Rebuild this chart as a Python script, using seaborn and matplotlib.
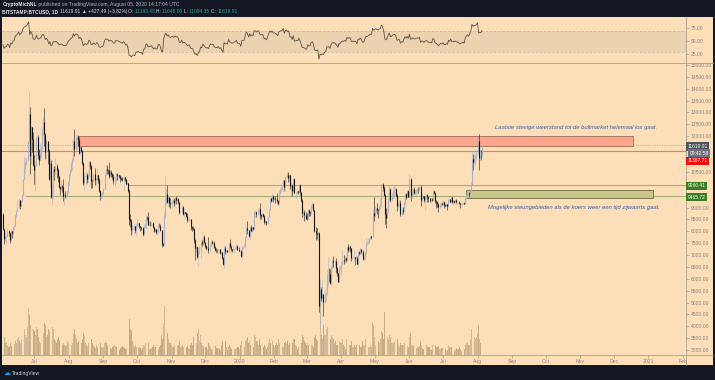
import numpy as np
import pandas as pd
import seaborn as sns
import matplotlib
matplotlib.use('Agg')
import matplotlib.pyplot as plt
import matplotlib.dates as mdates
from matplotlib.patches import Rectangle
from matplotlib.lines import Line2D

# BITSTAMP:BTCUSD daily candles, 3 Jun 2019 - 5 Aug 2020
start_date = '2019-06-03'
first_open = 8740

# a few closes before the first candle, only used to warm up the RSI
warmup_close = [7980, 7950, 7620, 7880, 7990, 8050, 8670, 8810, 8720, 8660, 8270, 8550, 8560, 8740]

close = [
    8110, 7680, 7790, 7800, 8000, 7930, 7630, 8020, 7910, 8170, 8230, 8690, 8860, 8980, 9330, 9080, 9280, 9530, 10200, 10680, 10870, 11020, 11770, 12930, 11170, 12380, 11900, 10810,
    10580, 10800, 11970, 11220, 10990, 11250, 11490, 12300, 12580, 12110, 11350, 11800, 11390, 10210, 10860, 9430, 9690, 10630, 10530, 10760, 10600, 10330, 9850, 9780, 9900, 9850, 9480, 9530, 9500, 9590, 10090,
    10400, 10530, 10820, 10980, 11790, 11460, 11960, 11960, 11850, 11290, 11560, 11390, 10860, 10020, 10310, 10360, 10220, 10320, 10920, 10760, 10130, 10110, 10400, 10140, 10140, 10370, 10170, 9710, 9490, 9580, 9600,
    9770, 10380, 10620, 10580, 10570, 10310, 10480, 10400, 10330, 10110, 10150, 10400, 10360, 10360, 10310, 10250, 10190, 10160, 10270, 10180, 9990, 10030, 9690, 8530, 8430, 8060, 8190, 8210, 8050, 8300,
    8300, 8350, 8230, 8160, 8150, 7870, 8200, 8210, 8590, 8580, 8270, 8310, 8290, 8360, 8160, 8000, 8090, 7950, 7950, 8230, 8220, 8040, 7470, 7420, 8660, 9250, 9550, 9250, 9430, 9200, 9150,
    9250, 9310, 9200, 9400, 9320, 9350, 9220, 8790, 8810, 9040, 8720, 8800, 8760, 8640, 8460, 8490, 8500, 8170, 8120, 8080, 7620, 7280, 7330, 6910, 7130, 7170, 7530, 7450, 7760, 7550,
    7400, 7300, 7300, 7200, 7400, 7540, 7500, 7520, 7340, 7220, 7200, 7190, 7250, 7070, 7110, 6880, 6620, 7280, 7150, 7190, 7140, 7510, 7320, 7250, 7200, 7200, 7250, 7310, 7390, 7220, 7170,
    7180, 6950, 7340, 7350, 7350, 7760, 8150, 8050, 7820, 8190, 8020, 8180, 8110, 8810, 8820, 8720, 8900, 8920, 8700, 8630, 8730, 8660, 8390, 8430, 8330, 8600, 8900, 9390, 9290, 9500, 9350,
    9380, 9340, 9290, 9180, 9620, 9750, 9800, 9900, 10150, 9850, 10270, 10350, 10240, 10360, 9900, 9930, 9700, 10180, 9600, 9600, 9690, 9660, 9960, 9650, 9310, 8780, 8810, 8690, 8530,
    8520, 8910, 8760, 8750, 9070, 9150, 8890, 8030, 7930, 7890, 7940, 4860, 5560, 5180, 5350, 5020, 5350, 5420, 6190, 6190, 6180, 5830, 6480, 6760, 6700, 6750, 6470, 6240, 5880, 6390, 6420,
    6640, 6800, 6740, 6860, 6780, 7340, 7200, 7370, 7300, 6870, 6890, 6910, 6860, 6880, 6640, 7120, 7100, 7260, 7130, 6850, 6850, 7130, 7490, 7510, 7550, 7690, 7790, 7760, 8780, 8630,
    8830, 8970, 8900, 8880, 9030, 9150, 9990, 9810, 9540, 8720, 8560, 8810, 9310, 9790, 9320, 9380, 9670, 9730, 9780, 9510, 9060, 9170, 9180, 8720, 8900, 8840, 9200, 9570, 9430, 9700, 9450,
    10200, 9520, 9660, 9790, 9620, 9670, 9750, 9780, 9770, 9880, 9320, 9480, 9470, 9330, 9430, 9520, 9460, 9380, 9300, 9360, 9300, 9680, 9630, 9290, 9250, 9160, 9010, 9120, 9190, 9140,
    9230, 9090, 9070, 9130, 9080, 9340, 9250, 9430, 9240, 9290, 9240, 9300, 9240, 9250, 9190, 9130, 9150, 9170, 9210, 9160, 9390, 9530, 9610, 9550, 9700, 9930, 11030, 10910, 11100, 11110, 11350,
    11810, 11070, 11230, 11192, 11620,
]

high = [
    8750, 8110, 7950, 7850, 8130, 8050, 7980, 8110, 8030, 8230, 8300, 8700, 8900, 9360, 9410, 9330, 9300, 9570, 10220, 11180, 11080, 11120, 11820, 13850, 13250, 12420, 12400, 12190,
    11200, 10950, 12000, 12060, 11450, 11700, 11620, 12340, 12800, 13200, 12150, 11900, 11800, 11450, 11080, 11000, 9990, 10750, 10750, 11080, 10830, 10660, 10340, 9900, 10170, 9960, 10180, 9630, 9700, 9720, 10120,
    10450, 10660, 10920, 11080, 11900, 12300, 12090, 12060, 12040, 11950, 11570, 11560, 11440, 10900, 10450, 10510, 10470, 10480, 10950, 10950, 10770, 10220, 10430, 10680, 10260, 10610, 10380, 10260, 9720, 9670, 9690,
    9820, 10460, 10800, 10800, 10640, 10900, 10560, 10590, 10450, 10390, 10290, 10450, 10440, 10420, 10380, 10360, 10270, 10280, 10330, 10280, 10210, 10080, 10040, 9800, 8720, 8500, 8260, 8330, 8220, 8340,
    8510, 8380, 8360, 8240, 8200, 8170, 8300, 8330, 8680, 8650, 8800, 8420, 8420, 8400, 8400, 8180, 8120, 8110, 8100, 8300, 8330, 8320, 8050, 7500, 8800, 10350, 9820, 9950, 9510, 9450, 9390,
    9300, 9380, 9380, 9530, 9480, 9450, 9380, 9250, 8870, 9150, 9070, 8880, 8830, 8790, 8770, 8530, 8620, 8520, 8220, 8210, 8130, 7680, 7350, 7380, 7330, 7360, 7660, 7630, 7860, 7830,
    7550, 7420, 7380, 7750, 7480, 7600, 7620, 7570, 7600, 7400, 7280, 7250, 7300, 7270, 7170, 7140, 6930, 7430, 7370, 7200, 7200, 7520, 7690, 7430, 7270, 7430, 7280, 7370, 7520, 7420, 7320,
    7250, 7210, 7400, 7390, 7490, 7780, 8200, 8450, 8050, 8200, 8280, 8200, 8190, 8880, 8900, 8850, 9000, 8980, 9190, 8730, 8770, 8780, 8670, 8520, 8440, 8620, 8980, 9400, 9420, 9560, 9530,
    9460, 9470, 9600, 9330, 9750, 9860, 9870, 9950, 10160, 10150, 10300, 10480, 10500, 10400, 10380, 10070, 9980, 10250, 10230, 9690, 9750, 9710, 9970, 10000, 9660, 9370, 8970, 8890, 8790,
    8750, 8950, 8920, 8840, 9150, 9170, 9190, 8900, 8170, 8140, 7980, 7970, 5980, 5640, 5950, 5370, 5560, 5450, 6410, 6910, 6450, 6420, 6600, 6840, 6970, 6790, 6870, 6500, 6260, 6590, 6520,
    6750, 7200, 7000, 6980, 6900, 7370, 7460, 7420, 7370, 7300, 6950, 7200, 6920, 6980, 6940, 7190, 7150, 7300, 7270, 7220, 6940, 7160, 7720, 7590, 7700, 7720, 7800, 7800, 8950, 9460,
    9050, 9000, 9200, 8950, 9100, 9400, 9990, 10050, 9900, 9580, 9000, 8970, 9400, 9930, 9840, 9590, 9880, 9950, 9900, 9840, 9560, 9270, 9310, 9300, 8970, 9010, 9220, 9600, 9600, 9730, 9720,
    10400, 10230, 9690, 9880, 9850, 9730, 9800, 9800, 9880, 9970, 9950, 9560, 9490, 9490, 9500, 9580, 9550, 9480, 9400, 9400, 9420, 9770, 9690, 9670, 9320, 9280, 9200, 9190, 9230, 9200,
    9310, 9270, 9130, 9190, 9140, 9360, 9370, 9440, 9440, 9310, 9300, 9340, 9350, 9270, 9270, 9210, 9190, 9200, 9230, 9220, 9420, 9550, 9650, 9650, 9730, 10090, 11400, 11250, 11350, 11190, 11450,
    11860, 12090, 11480, 11420, 11646,
]

low = [
    8070, 7470, 7600, 7460, 7770, 7820, 7520, 7600, 7730, 7830, 8070, 8230, 8600, 8850, 8970, 8950, 9050, 9240, 9520, 10160, 10470, 10810, 11010, 11710, 10400, 10830, 11350, 10750,
    10000, 9690, 10760, 11050, 10800, 10990, 11100, 11430, 12030, 11590, 11050, 11070, 10850, 10150, 9880, 9380, 9090, 9340, 10140, 10400, 10230, 10080, 9830, 9520, 9750, 9650, 9280, 9120, 9420, 9400, 9570,
    9920, 10340, 10510, 10600, 10960, 11180, 11380, 11450, 11600, 11250, 11200, 11340, 10780, 9960, 9720, 9950, 10020, 10070, 10270, 10610, 9830, 9830, 10070, 9940, 9930, 10100, 10050, 9640, 9330, 9370, 9420,
    9510, 9750, 10340, 10420, 10390, 10230, 10300, 10300, 10180, 9970, 9900, 10050, 10170, 10300, 10260, 10090, 10150, 10100, 9710, 10130, 9970, 9930, 9640, 8260, 8200, 7830, 7890, 8040, 7920, 7800,
    8200, 8220, 8140, 8010, 8050, 7790, 7780, 8150, 8130, 8470, 8250, 8250, 8230, 8230, 8130, 7950, 7950, 7880, 7860, 7880, 8200, 8000, 7350, 7370, 7400, 8550, 9110, 9200, 9060, 9040, 8970,
    9000, 9200, 9080, 9100, 9150, 9300, 9150, 8720, 8750, 8790, 8680, 8570, 8710, 8580, 8400, 8450, 8440, 8060, 8000, 8040, 7520, 6790, 7130, 6870, 6520, 7030, 6860, 7400, 7410, 7500,
    7280, 7210, 7240, 7100, 7170, 7370, 7470, 7440, 7310, 7180, 7140, 7090, 7170, 7040, 7030, 6850, 6560, 6440, 7050, 7100, 7120, 7130, 7280, 7160, 7130, 7170, 7090, 7240, 7300, 7200, 7150,
    7150, 6900, 6870, 7260, 7340, 7350, 7720, 7870, 7750, 7720, 8000, 7960, 8060, 8110, 8580, 8600, 8670, 8800, 8500, 8520, 8550, 8600, 8320, 8260, 8260, 8290, 8590, 8890, 9230, 9220, 9250,
    9300, 9180, 9200, 9110, 9160, 9550, 9700, 9690, 9880, 9700, 9720, 10250, 10080, 10130, 9800, 9460, 9470, 9590, 9590, 9410, 9580, 9560, 9640, 9510, 9250, 8620, 8550, 8450, 8510,
    8490, 8510, 8650, 8660, 8740, 8990, 8850, 7960, 7650, 7690, 7600, 4600, 3850, 5080, 5120, 4450, 5000, 5060, 5310, 5700, 5860, 5760, 5700, 6400, 6500, 6550, 6240, 6100, 5860, 5880, 6340,
    6170, 6580, 6620, 6670, 6710, 6780, 7120, 7160, 7140, 6760, 6780, 6800, 6560, 6800, 6620, 6500, 7000, 7060, 7050, 6800, 6800, 6840, 7040, 7420, 7460, 7500, 7660, 7660, 7740, 8420,
    8630, 8760, 8710, 8550, 8780, 8930, 9030, 9710, 9480, 8300, 8150, 8550, 8800, 9260, 9230, 9280, 9350, 9470, 9480, 9450, 8850, 9000, 9070, 8640, 8640, 8730, 8840, 9100, 9340, 9390, 9430,
    9420, 9260, 9380, 9450, 9580, 9540, 9430, 9630, 9590, 9720, 9080, 9250, 9390, 9250, 8910, 9350, 9240, 9250, 9220, 9190, 9280, 9280, 9580, 9210, 8990, 9040, 8830, 8940, 9040, 9090,
    9100, 8970, 9050, 9060, 8900, 9060, 9220, 9220, 9170, 9120, 9190, 9190, 9200, 9110, 9130, 9000, 9100, 9120, 9130, 9140, 9150, 9280, 9500, 9450, 9550, 9650, 9930, 10600, 10850, 10840, 10990,
    11220, 10560, 11000, 11000, 11094,
]

# thousand BTC per day
volume = [
    14, 18, 12, 13, 10, 8, 9, 12, 9, 10, 11, 14, 12, 16, 18, 14, 12, 16, 22, 26, 20, 18, 28, 47, 40, 30, 24, 26,
    24, 20, 28, 26, 18, 14, 12, 20, 22, 32, 30, 18, 20, 26, 24, 30, 28, 26, 16, 14, 12, 16, 18, 14, 12, 10, 12, 10, 9, 10, 14,
    12, 10, 10, 12, 22, 26, 20, 16, 12, 14, 10, 12, 16, 22, 20, 12, 10, 8, 12, 10, 16, 12, 10, 8, 7, 10, 8, 14, 12, 8, 7,
    8, 12, 14, 12, 10, 9, 7, 6, 8, 9, 10, 9, 8, 6, 5, 7, 8, 9, 8, 7, 6, 6, 10, 36, 26, 24, 14, 10, 8, 10,
    8, 7, 8, 7, 5, 7, 10, 9, 12, 10, 12, 6, 6, 7, 8, 10, 8, 8, 5, 6, 8, 10, 20, 16, 32, 49, 26, 22, 16, 12, 12,
    10, 8, 8, 10, 10, 9, 10, 14, 8, 8, 10, 8, 7, 8, 9, 7, 6, 10, 12, 10, 18, 24, 12, 22, 26, 14, 20, 12, 10, 8,
    8, 8, 6, 12, 10, 8, 6, 5, 8, 9, 7, 7, 7, 6, 5, 10, 14, 24, 14, 8, 5, 8, 10, 8, 6, 8, 6, 6, 7, 8, 8,
    6, 10, 14, 10, 8, 14, 16, 18, 12, 14, 10, 8, 8, 20, 18, 14, 14, 10, 16, 10, 8, 8, 10, 8, 6, 8, 12, 16, 12, 14, 10,
    8, 10, 12, 10, 16, 12, 10, 8, 8, 12, 14, 12, 14, 10, 12, 12, 12, 16, 16, 10, 9, 6, 8, 12, 12, 20, 18, 14, 12,
    10, 12, 10, 8, 10, 10, 8, 18, 20, 16, 14, 42, 52, 20, 16, 30, 20, 20, 26, 28, 18, 16, 20, 18, 16, 12, 14, 10, 10, 14, 12,
    12, 16, 10, 8, 6, 16, 14, 10, 10, 14, 8, 8, 10, 8, 10, 16, 10, 8, 8, 14, 10, 10, 16, 10, 8, 8, 10, 8, 33, 30,
    18, 10, 12, 14, 12, 16, 24, 22, 16, 43, 30, 18, 16, 20, 18, 12, 12, 12, 14, 14, 16, 10, 8, 12, 10, 10, 10, 12, 10, 9, 8,
    18, 22, 10, 10, 9, 6, 7, 8, 8, 9, 14, 10, 6, 6, 10, 10, 8, 8, 8, 6, 5, 10, 8, 10, 8, 8, 9, 6, 6, 7,
    7, 8, 6, 4, 5, 10, 8, 8, 8, 6, 4, 5, 7, 6, 6, 8, 6, 4, 4, 6, 10, 12, 12, 10, 10, 16, 26, 22, 18, 16, 18,
    22, 30, 16, 12, 10,
]

# drawings on the chart
resist_zone = (11570, 11990, '2019-08-09', '2020-12-18')
support_zone = (9420, 9720, '2020-07-22', '2021-01-05')
red_level = 11367.71
green_levels = [9960.41, 9465.72]
green_starts = ['2019-09-23', '2019-06-23']
last_price = 11619.91
note_top = 'Laatste stevige weerstand tot de bullmarket helemaal los gaat.'
note_bottom = 'Mogelijke steungebieden als de koers weer een tijd zijwaarts gaat.'

price_ticks = np.arange(3000, 15001, 500)
hidden_ticks = [9500, 10000, 11000, 11500]   # covered by the price tags

month_ticks = pd.date_range('2019-07-01', '2021-02-01', freq='MS')
month_labels = ['Jul', 'Aug', 'Sep', 'Oct', 'Nov', 'Dec', '2020', 'Feb', 'Mar', 'Apr', 'May', 'Jun',
                'Jul', 'Aug', 'Sep', 'Oct', 'Nov', 'Dec', '2021', 'Feb']

# --- prepare data ---
dates = pd.date_range(start_date, periods=len(close), freq='D')
df = pd.DataFrame({'date': dates, 'close': close, 'high': high, 'low': low, 'volume': volume})
df['open'] = [first_open] + close[:-1]
df['up'] = df['close'] >= df['open']

# RSI 14 (Wilder)
full = pd.Series(warmup_close + close, dtype=float)
delta = full.diff()
gain = delta.clip(lower=0).ewm(alpha=1 / 14, adjust=False, min_periods=14).mean()
loss = (-delta.clip(upper=0)).ewm(alpha=1 / 14, adjust=False, min_periods=14).mean()
rsi = 100 - 100 / (1 + gain / loss)
df['rsi'] = rsi.iloc[len(warmup_close):].values

# --- style ---
BG = '#fcdfb9'
DARK = '#131722'
LINE = '#a89f92'
TXT = '#8a857c'
UP = '#a9b1c2'
DOWN = '#141414'

sns.set_theme(style='white')
plt.rcParams['font.family'] = ['Liberation Sans', 'DejaVu Sans']

W, H = 715, 380
fig = plt.figure(figsize=(W / 100, H / 100), dpi=100, facecolor=DARK)


def fx(px):
    return px / W


def fy(py):
    return 1 - py / H


fig.add_artist(Rectangle((fx(2.3), fy(365)), fx(713) - fx(2.3), fy(16.7) - fy(365),
                         transform=fig.transFigure, facecolor=BG, edgecolor='none', zorder=-1))

left, right = fx(2.3), fx(686)
ax_rsi = fig.add_axes([left, fy(62.8), right - left, fy(16.7) - fy(62.8)])
ax_vol = fig.add_axes([left, fy(355), right - left, fy(63.5) - fy(355)])
ax = fig.add_axes([left, fy(355), right - left, fy(63.5) - fy(355)])

xlim = (pd.Timestamp('2019-06-02 10:00'), pd.Timestamp('2021-02-03 17:00'))
for a in (ax_rsi, ax_vol, ax):
    a.set_facecolor('none')
    for s in a.spines.values():
        s.set_visible(False)

# --- RSI pane ---
ax_rsi.axhspan(30, 70, color='#ecd3b0', lw=0, zorder=0)
for lvl in (70, 30):
    ax_rsi.axhline(lvl, color='#c2b29a', lw=0.5, ls=(0, (3, 3)), zorder=1)
sns.lineplot(data=df, x='date', y='rsi', ax=ax_rsi, color='#5b5246', linewidth=0.6, zorder=2)
ax_rsi.set_xlim(*xlim)
ax_rsi.set_ylim(8.5, 97.6)
ax_rsi.set_xlabel('')
ax_rsi.set_ylabel('')
ax_rsi.set_xticks([])
ax_rsi.yaxis.tick_right()
ax_rsi.set_yticks([25, 50, 75])
ax_rsi.set_yticklabels(['25.00', '50.00', '75.00'])
ax_rsi.tick_params(axis='y', which='both', right=True, length=2, width=0.5, color=LINE,
                   labelsize=3.6, labelcolor=TXT, pad=1.5)

# --- volume ---
vcol = np.where(df['up'], '#cdb691', '#c0a67f')
ax_vol.bar(df['date'], df['volume'], width=0.8, color=vcol, linewidth=0, alpha=0.9)
ax_vol.set_xlim(*xlim)
ax_vol.set_ylim(0, 291.5)
ax_vol.axis('off')

# --- price pane ---
ax.axhline(last_price, color='#8a8f9c', lw=0.5, ls=(0, (1, 1.5)), zorder=1)
ax.axhline(red_level, color='#f4756a', lw=0.8, zorder=2)
for lvl, x0 in zip(green_levels, green_starts):
    ax.hlines(lvl, pd.Timestamp(x0), xlim[1], color='#a6ac76', lw=0.8, zorder=2)

y0, y1, d0, d1 = resist_zone
ax.add_patch(Rectangle((mdates.date2num(pd.Timestamp(d0)), y0),
                       mdates.date2num(pd.Timestamp(d1)) - mdates.date2num(pd.Timestamp(d0)), y1 - y0,
                       facecolor='#fda58b', edgecolor='#9a6a5c', lw=0.6, zorder=3))
y0, y1, d0, d1 = support_zone
ax.add_patch(Rectangle((mdates.date2num(pd.Timestamp(d0)), y0),
                       mdates.date2num(pd.Timestamp(d1)) - mdates.date2num(pd.Timestamp(d0)), y1 - y0,
                       facecolor='#c9c68c', edgecolor='#6e6a3c', lw=0.6, zorder=3))

up = df[df['up']]
dn = df[~df['up']]
for part, col in ((up, UP), (dn, DOWN)):
    ax.vlines(part['date'], part['low'], part['high'], color=col, lw=0.4, zorder=4)
    ax.vlines(part['date'], part['open'], part['close'], color=col, lw=0.8, zorder=4)

ax.text(pd.Timestamp('2021-01-09'), 12368, note_top, ha='right', va='center', style='italic',
        color='#3d5fa6', fontsize=4.2, zorder=5)
ax.text(pd.Timestamp('2021-01-11'), 8980, note_bottom, ha='right', va='center', style='italic',
        color='#3d5fa6', fontsize=4.2, zorder=5)

ax.set_xlim(*xlim)
ax.set_ylim(2790, 15063)
ax.yaxis.tick_right()
ax.set_yticks(price_ticks)
ax.set_yticklabels(['' if v in hidden_ticks else f'{v:.2f}' for v in price_ticks])
ax.set_xticks(month_ticks)
ax.set_xticklabels(month_labels)
ax.tick_params(axis='y', which='both', right=True, length=2, width=0.5, color=LINE,
               labelsize=3.6, labelcolor=TXT, pad=1.5)
ax.tick_params(axis='x', which='both', bottom=True, length=2, width=0.5, color=LINE,
               labelsize=3.7, labelcolor=TXT, pad=1.0)
ax.grid(False)
ax_rsi.grid(False)

# --- frame lines ---
for (xa, xb, ya, yb) in ((686, 686, 16.7, 365), (2.3, 713, 62.9, 62.9), (2.3, 713, 355, 355)):
    fig.add_artist(Line2D([fx(xa), fx(xb)], [fy(ya), fy(yb)], transform=fig.transFigure,
                          color=LINE, lw=0.6, zorder=2))

# --- price tags on the axis ---
tags = [('11619.91', 146.4, '#50535e', 687.5), ('09:42:58', 153.6, '#6f727c', 689.5),
        ('11367.71', 160.8, '#f20d0d', 687.5), ('9960.41', 185.8, '#3a7d22', 687.5),
        ('9465.72', 197.2, '#3a7d22', 687.5)]
for txt, ypx, fc, xpx in tags:
    fig.text(fx(xpx), fy(ypx), txt, color='white', fontsize=3.5, va='center', ha='left', zorder=6,
             bbox=dict(boxstyle='square,pad=0.35', facecolor=fc, edgecolor='none'))

# --- header ---
renderer = fig.canvas.get_renderer()


def write_row(x, y, pieces, size):
    for txt, col, weight in pieces:
        t = fig.text(fx(x), fy(y), txt, color=col, fontsize=size, fontweight=weight, va='center', ha='left')
        x += t.get_window_extent(renderer).width


write_row(2.5, 4.5, [('CryptoMichNL', '#e8e8e8', 'bold'),
                     (' published on TradingView.com, August 05, 2020 14:17:04 UTC', '#b2b5be', 'normal')], 3.6)
write_row(2.5, 11.5, [('BITSTAMP:BTCUSD, 1D ', '#e8e8e8', 'bold'),
                      ('11619.91 ', '#d1d4dc', 'normal'), ('▲ +427.49 (+3.82%) ', '#d1d4dc', 'normal'),
                      ('O: ', '#d1d4dc', 'normal'), ('11193.48 ', '#26a69a', 'normal'),
                      ('H: ', '#d1d4dc', 'normal'), ('11646.00 ', '#26a69a', 'normal'),
                      ('L: ', '#d1d4dc', 'normal'), ('11094.35 ', '#26a69a', 'normal'),
                      ('C: ', '#d1d4dc', 'normal'), ('11619.91', '#26a69a', 'normal')], 3.5)

# --- footer logo ---
fig.text(fx(4), fy(373), '☁', color='#2196f3', fontsize=5, va='center', ha='left', family='DejaVu Sans')
fig.text(fx(11.5), fy(373), 'TradingView', color='#d1d4dc', fontsize=3.6, va='center', ha='left')

fig.savefig('out.png', dpi=100, facecolor=fig.get_facecolor())
